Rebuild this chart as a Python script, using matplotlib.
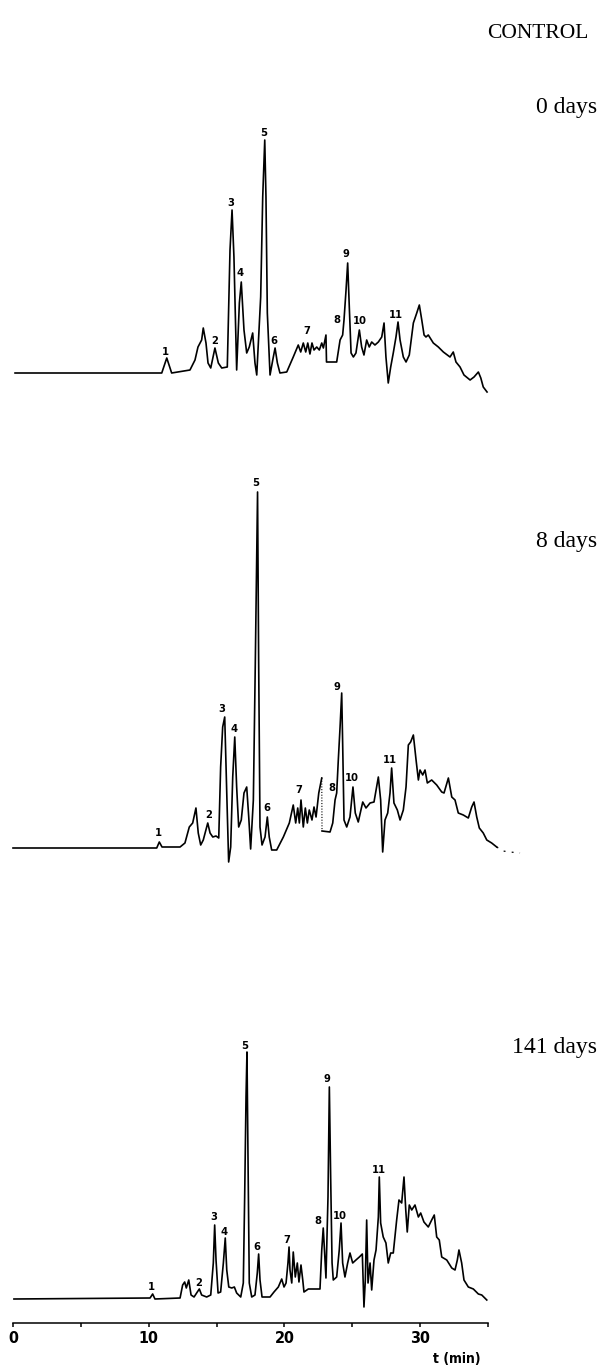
import matplotlib
matplotlib.use("Agg")
import matplotlib.pyplot as plt

# ---------------- data (retention time in min, detector signal in arbitrary units) ----------------
t_day0 = [0.15, 10.96, 11.33, 11.69, 13.04, 13.41, 13.63, 13.90, 14.02, 14.22, 14.37, 14.57, 14.88, 15.13,
          15.38, 15.79, 15.99, 16.14, 16.28, 16.48, 16.68, 16.82, 17.02, 17.22, 17.41, 17.66, 17.83, 17.96,
          18.25, 18.40, 18.55, 18.64, 18.74, 18.94, 19.14, 19.31, 19.48, 19.67, 20.17, 20.65, 21.02, 21.20,
          21.39, 21.57, 21.72, 21.88, 22.03, 22.18, 22.38, 22.57, 22.75, 22.87, 23.06, 23.10, 23.85, 24.10,
          24.29, 24.39, 24.54, 24.66, 24.78, 24.91, 25.08, 25.27, 25.52, 25.69, 25.86, 26.06, 26.25, 26.43,
          26.67, 26.92, 27.17, 27.34, 27.48, 27.65, 27.83, 28.02, 28.22, 28.37, 28.52, 28.76, 28.96, 29.20,
          29.50, 29.75, 29.94, 30.12, 30.29, 30.43, 30.60, 30.97, 31.34, 31.71, 32.20, 32.44, 32.64, 32.94,
          33.23, 33.68, 33.97, 34.29, 34.47, 34.65, 34.93]
s_day0 = [0, 0, 15, 0, 3, 13, 26, 33, 45, 30, 10, 5, 25, 10,
          5, 6, 123, 163, 116, 3, 70, 91, 43, 20, 26, 40, 10, -2,
          76, 176, 233, 176, 60, -2, 13, 25, 10, 0, 1, 16, 28, 21,
          30, 21, 30, 19, 30, 23, 26, 23, 30, 25, 38, 11, 11, 33,
          38, 53, 83, 110, 66, 20, 16, 20, 43, 26, 18, 33, 26, 31,
          28, 31, 36, 50, 16, -10, 6, 20, 36, 51, 33, 16, 11, 18,
          50, 60, 68, 53, 38, 36, 38, 30, 26, 21, 16, 21, 11, 6,
          -2, -7, -4, 1, -5, -14, -19]

t_day8_a = [0.0, 10.59, 10.78, 10.98, 12.31, 12.67, 12.99, 13.24, 13.48, 13.65, 13.83, 14.02, 14.35, 14.52,
            14.72, 14.96, 15.16, 15.30, 15.45, 15.60, 15.75, 15.89, 16.04, 16.19, 16.34, 16.48, 16.63, 16.82,
            17.02, 17.22, 17.37, 17.51, 17.71, 17.85, 18.02, 18.10, 18.20, 18.35, 18.57, 18.74, 18.88, 19.06,
            19.43, 19.92, 20.36, 20.65, 20.83, 20.98, 21.10, 21.22, 21.39, 21.54, 21.69, 21.83, 22.03, 22.18,
            22.33, 22.53, 22.75]
s_day8_a = [0, 0, 6, 1, 1, 5, 21, 25, 40, 15, 3, 8, 25, 15,
            11, 12, 10, 81, 121, 131, 55, -14, 1, 71, 111, 61, 21, 28,
            55, 61, 31, -1, 48, 181, 356, 188, 21, 3, 11, 31, 11, -2,
            -2, 11, 25, 43, 25, 40, 25, 48, 21, 40, 25, 38, 28, 41,
            31, 55, 70]
t_day8_b = [22.77, 23.36, 23.56, 23.73, 23.85, 23.97, 24.10, 24.22, 24.29, 24.39, 24.59, 24.83, 25.05, 25.22,
            25.44, 25.77, 26.01, 26.31, 26.60, 26.92, 27.09, 27.24, 27.41, 27.61, 27.78, 27.90, 28.07, 28.32,
            28.52, 28.76, 28.96, 29.13, 29.30, 29.50, 29.70, 29.87, 29.99, 30.19, 30.36, 30.53, 30.85, 31.22,
            31.59, 31.76, 32.08, 32.33, 32.57, 32.81, 33.18, 33.55, 33.80, 33.97, 34.17, 34.36, 34.65, 34.91,
            35.27, 35.64]
s_day8_b = [17, 16, 25, 48, 55, 88, 121, 155, 105, 28, 21, 31, 61, 35,
            26, 46, 40, 45, 46, 71, 48, -4, 28, 35, 55, 80, 45, 38,
            28, 38, 61, 103, 106, 113, 88, 68, 78, 73, 78, 65, 68, 63,
            56, 55, 70, 51, 48, 35, 33, 30, 41, 46, 31, 20, 15, 8,
            5, 1]
t_day8_tail = [35.64, 36.10, 36.62, 37.36]
s_day8_tail = [1, -3, -4, -5]

t_day141 = [0.07, 10.10, 10.29, 10.46, 12.31, 12.50, 12.65, 12.77, 12.95, 13.12, 13.34, 13.58, 13.73, 13.90,
            14.27, 14.57, 14.76, 14.86, 14.96, 15.11, 15.30, 15.50, 15.64, 15.75, 15.90, 16.12, 16.31, 16.48,
            16.78, 16.97, 17.07, 17.17, 17.24, 17.32, 17.41, 17.59, 17.83, 18.00, 18.10, 18.20, 18.35, 18.94,
            19.23, 19.55, 19.80, 19.97, 20.12, 20.26, 20.34, 20.41, 20.54, 20.65, 20.80, 20.95, 21.07, 21.22,
            21.35, 21.44, 21.76, 22.62, 22.75, 22.86, 22.97, 23.06, 23.21, 23.31, 23.41, 23.51, 23.60, 23.85,
            24.04, 24.17, 24.29, 24.46, 24.66, 24.83, 25.03, 25.27, 25.52, 25.74, 25.86, 25.96, 26.06, 26.16,
            26.31, 26.43, 26.60, 26.75, 26.92, 26.99, 27.09, 27.28, 27.48, 27.65, 27.83, 28.02, 28.27, 28.44,
            28.64, 28.81, 28.94, 29.05, 29.20, 29.38, 29.62, 29.87, 30.04, 30.28, 30.60, 30.85, 31.04, 31.22,
            31.41, 31.59, 31.96, 32.33, 32.57, 32.74, 32.86, 33.06, 33.23, 33.55, 33.92, 34.29, 34.54, 34.91]
s_day141 = [-1, 0, 4, -1, 0, 13, 16, 10, 18, 3, 1, 6, 9, 3,
            1, 3, 35, 73, 38, 5, 6, 35, 60, 28, 11, 10, 11, 5,
            1, 15, 101, 201, 246, 135, 15, 1, 3, 25, 44, 18, 1, 1,
            6, 11, 19, 11, 15, 35, 51, 28, 15, 46, 21, 35, 16, 33,
            18, 6, 9, 9, 48, 70, 43, 20, 101, 211, 118, 35, 18, 21,
            48, 75, 35, 21, 35, 45, 35, 38, 41, 44, -9, 18, 78, 15,
            35, 8, 38, 48, 81, 121, 75, 61, 55, 35, 45, 45, 78, 98,
            95, 121, 88, 66, 93, 88, 93, 81, 85, 76, 71, 78, 83, 61,
            58, 41, 38, 30, 28, 38, 48, 35, 18, 11, 9, 4, 3, -2]

peak_names = ["1", "2", "3", "4", "5", "6", "7", "8", "9", "10", "11"]
lab_t_day0 = [11.20, 14.88, 16.04, 16.73, 18.50, 19.25, 21.64, 23.90, 24.54, 25.52, 28.22]
lab_s_day0 = [21, 32, 170, 100, 240, 32, 42, 53, 119, 52, 58]
lab_t_day8 = [10.71, 14.44, 15.38, 16.28, 17.91, 18.69, 21.07, 23.48, 23.85, 24.96, 27.78]
lab_s_day8 = [15, 33, 139, 119, 365, 40, 58, 60, 161, 70, 88]
lab_t_day141 = [10.22, 13.65, 14.76, 15.55, 17.10, 17.96, 20.21, 22.50, 23.12, 24.10, 26.99]
lab_s_day141 = [11, 15, 81, 66, 252, 51, 58, 77, 219, 82, 128]

x_ticks_major = [0, 10, 20, 30]
x_ticks_minor = [5, 15, 25, 35]
x_ticklabels = ["0", "10", "20", "30"]
panel_titles = ["0 days", "8 days", "141 days"]

# ---------------- fonts ----------------
plt.rcParams["font.family"] = ["DejaVu Sans"]
serif = "Liberation Serif"
cond = dict(family=["DejaVu Sans"], fontstretch="condensed", fontweight="bold")

# ---------------- layout ----------------
W, H = 601, 1366
fig = plt.figure(figsize=(W / 100, H / 100), dpi=100)

x_left_px, x_right_px = 13, 488
xlim = (0, 35)

def add_axes(top_px, bottom_px, base_px):
    ax = fig.add_axes([x_left_px / W, 1 - bottom_px / H, (x_right_px - x_left_px) / W,
                       (bottom_px - top_px) / H])
    ax.set_xlim(*xlim)
    ax.set_ylim(base_px - bottom_px, base_px - top_px)
    ax.patch.set_alpha(0)
    return ax

lw = 1.2
lab_kw = dict(fontsize=8, ha="center", va="center", **cond)

# panel 1: 0 days
ax0 = add_axes(100, 410, 373)
ax0.plot(t_day0, s_day0, color="black", lw=lw, clip_on=False)
for n, tt, ss in zip(peak_names, lab_t_day0, lab_s_day0):
    ax0.text(tt, ss, n, **lab_kw)
ax0.axis("off")

# panel 2: 8 days
ax1 = add_axes(470, 870, 848)
ax1.plot(t_day8_a, s_day8_a, color="black", lw=lw, clip_on=False)
ax1.plot([t_day8_a[-1], t_day8_b[0]], [s_day8_a[-1], s_day8_b[0]], color="black", lw=0.8,
         ls=(0, (1, 1.5)), clip_on=False)
ax1.plot(t_day8_b, s_day8_b, color="black", lw=lw, clip_on=False)
ax1.plot(t_day8_tail, s_day8_tail, color="black", lw=0.9, ls=(0, (1.5, 5)), clip_on=False)
for n, tt, ss in zip(peak_names, lab_t_day8, lab_s_day8):
    ax1.text(tt, ss, n, **lab_kw)
ax1.axis("off")

# panel 3: 141 days, with the time axis
ax2 = add_axes(1020, 1323, 1298)
ax2.plot(t_day141, s_day141, color="black", lw=lw, clip_on=False)
for n, tt, ss in zip(peak_names, lab_t_day141, lab_s_day141):
    ax2.text(tt, ss, n, **lab_kw)
for sp in ["top", "right", "left"]:
    ax2.spines[sp].set_visible(False)
ax2.spines["bottom"].set_linewidth(1.1)
ax2.set_yticks([])
ax2.set_xticks(x_ticks_major)
ax2.set_xticks(x_ticks_minor, minor=True)
ax2.set_xticklabels(x_ticklabels, fontsize=11.5, **cond)
ax2.tick_params(axis="x", which="both", direction="out", length=3, width=1.1, pad=3)

fig.text(457 / W, 1 - 1359 / H, "t (min)", fontsize=10, ha="center", va="center", **cond)

# titles
fig.text(589 / W, 1 - 34 / H, "CONTROL", family=[serif], fontsize=15.5, ha="right", va="center")
title_y = [108, 541, 1048]
for ttl, yy in zip(panel_titles, title_y):
    fig.text(597 / W, 1 - yy / H, ttl, family=[serif], fontsize=17, ha="right", va="center")

fig.savefig("out.png", dpi=100, facecolor="white")
